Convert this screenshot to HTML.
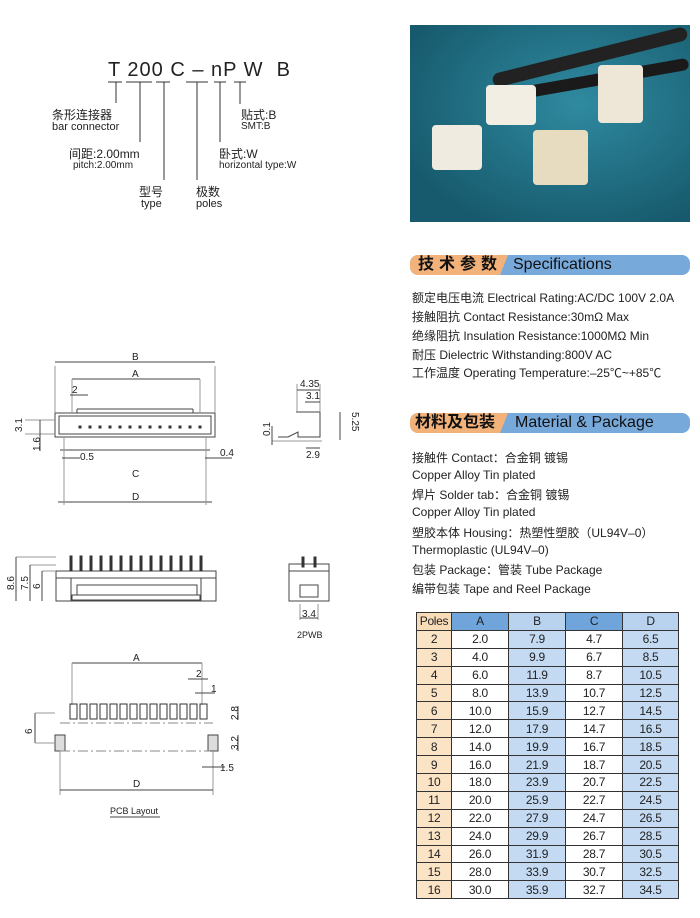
<!DOCTYPE html>
<html><head><meta charset="utf-8"><style>
body{margin:0;background:#fff;width:700px;height:918px;position:relative;overflow:hidden;font-family:"Liberation Sans","Noto Sans CJK SC",sans-serif;color:#222}
.t{position:absolute;white-space:nowrap}
.hdr{position:absolute;left:410px;width:280px;height:20px;border-radius:8px;background:#78a9db;overflow:hidden}
.hdr .o{position:absolute;left:0;top:0;height:20px;background:#f2b27a;clip-path:polygon(0 0,100% 0,calc(100% - 8px) 100%,0 100%)}
.hdr span{position:absolute;top:0;line-height:20px;font-size:16px;color:#111}
.sp{position:absolute;left:412px;font-size:12px;white-space:nowrap}
table{position:absolute;left:416px;top:612px;border-collapse:collapse;font-size:12px;letter-spacing:-0.3px}
td{border:1px solid #333;height:16.9px;padding:0;text-align:center;line-height:16px}
</style></head><body>
<div class="t" style="left:108px;top:59px;font-size:20px;letter-spacing:1px">T 200 C – nP W &nbsp;B</div>
<svg width="400" height="918" style="position:absolute;left:0;top:0" font-family="Liberation Sans" font-size="11" fill="none" stroke="#333">
<g stroke-width="1">
<line x1="108" y1="82" x2="122" y2="82"/><line x1="116" y1="82" x2="116" y2="103"/>
<line x1="126" y1="82" x2="152" y2="82"/><line x1="140" y1="82" x2="140" y2="142"/>
<line x1="156" y1="82" x2="170" y2="82"/><line x1="164" y1="82" x2="164" y2="180"/>
<line x1="186" y1="82" x2="208" y2="82"/><line x1="197" y1="82" x2="197" y2="180"/>
<line x1="214" y1="82" x2="226" y2="82"/><line x1="220" y1="82" x2="220" y2="142"/>
<line x1="234" y1="82" x2="246" y2="82"/><line x1="240" y1="82" x2="240" y2="104"/>
</g>
<g stroke="#444" stroke-width="1">
<rect x="55" y="413" width="160" height="24"/><rect x="59" y="416" width="152" height="18"/>
<line x1="77" y1="413" x2="193" y2="413"/><line x1="77" y1="413" x2="77" y2="409"/><line x1="193" y1="413" x2="193" y2="409"/><line x1="77" y1="409" x2="193" y2="409"/>
<line x1="55" y1="366" x2="55" y2="413" stroke="#999"/><line x1="215" y1="366" x2="215" y2="413" stroke="#999"/>
<line x1="55" y1="362" x2="215" y2="362"/><line x1="72" y1="379" x2="200" y2="379"/>
<line x1="72" y1="379" x2="72" y2="413" stroke="#999"/><line x1="200" y1="379" x2="200" y2="413" stroke="#999"/>
<line x1="70" y1="395" x2="88" y2="395"/>
<line x1="60" y1="450" x2="210" y2="450"/><line x1="58" y1="502" x2="212" y2="502"/>
<line x1="64" y1="437" x2="64" y2="505" stroke="#999"/><line x1="206" y1="437" x2="206" y2="505" stroke="#999"/>
<line x1="62" y1="458" x2="80" y2="458"/><line x1="205" y1="458" x2="232" y2="458"/>
<line x1="25" y1="420" x2="55" y2="420" stroke="#999"/><line x1="25" y1="434" x2="55" y2="434" stroke="#999"/><line x1="40" y1="420" x2="40" y2="451"/>
<path d="M296 412 h24 v25 h-22 v-5 l-10 5 h-10"/><line x1="272" y1="441" x2="322" y2="441" stroke="#999"/>
<line x1="297" y1="384" x2="297" y2="412" stroke="#999"/><line x1="320" y1="384" x2="320" y2="412" stroke="#999"/>
<line x1="297" y1="390" x2="320" y2="390"/><line x1="305" y1="402" x2="320" y2="402"/>
<line x1="306" y1="448" x2="320" y2="448"/><line x1="340" y1="412" x2="340" y2="440"/>
<line x1="272" y1="426" x2="272" y2="445"/>
<rect x="56" y="571" width="160" height="30"/><line x1="56" y1="578" x2="216" y2="578"/>
<rect x="56" y="578" width="15" height="23"/><rect x="201" y="578" width="15" height="23"/>
<rect x="77" y="585" width="120" height="10"/><rect x="72" y="595" width="128" height="5"/>
<line x1="16" y1="557" x2="56" y2="557" stroke="#999"/><line x1="30" y1="565" x2="56" y2="565" stroke="#999"/><line x1="42" y1="571" x2="56" y2="571" stroke="#999"/>
<line x1="16" y1="557" x2="16" y2="601"/><line x1="30" y1="565" x2="30" y2="601"/><line x1="42" y1="571" x2="42" y2="601"/>
<rect x="289" y="564" width="40" height="37"/><line x1="289" y1="571" x2="329" y2="571"/><rect x="300" y="585" width="18" height="12"/>
<line x1="300" y1="604" x2="300" y2="620" stroke="#999"/><line x1="318" y1="604" x2="318" y2="620" stroke="#999"/><line x1="300" y1="618" x2="318" y2="618"/>
<line x1="72" y1="663" x2="202" y2="663"/><line x1="72" y1="663" x2="72" y2="705" stroke="#999"/><line x1="202" y1="663" x2="202" y2="705" stroke="#999"/>
<line x1="188" y1="679" x2="208" y2="679"/><line x1="195" y1="693" x2="215" y2="693"/>
<rect x="55" y="735" width="10" height="16" fill="#ddd"/><rect x="208" y="735" width="10" height="16" fill="#ddd"/>
<line x1="60" y1="751" x2="210" y2="751" stroke-dasharray="10 3 2 3" stroke="#888"/>
<line x1="60" y1="723" x2="213" y2="723" stroke-dasharray="10 3 2 3" stroke="#888"/>
<line x1="60" y1="751" x2="60" y2="795" stroke="#999"/><line x1="213" y1="751" x2="213" y2="795" stroke="#999"/>
<line x1="60" y1="790" x2="213" y2="790"/><line x1="35" y1="713" x2="35" y2="743"/>
<line x1="35" y1="713" x2="55" y2="713" stroke="#999"/><line x1="35" y1="743" x2="55" y2="743" stroke="#999"/>
<line x1="202" y1="767" x2="225" y2="767"/><line x1="238" y1="706" x2="238" y2="720"/><line x1="238" y1="735" x2="238" y2="751"/>
<line x1="110" y1="817" x2="160" y2="817"/>
</g>
<g fill="#333">
<rect x="70" y="704" width="7" height="15" fill="none" stroke="#333"/>
<rect x="80" y="704" width="7" height="15" fill="none" stroke="#333"/>
<rect x="90" y="704" width="7" height="15" fill="none" stroke="#333"/>
<rect x="100" y="704" width="7" height="15" fill="none" stroke="#333"/>
<rect x="110" y="704" width="7" height="15" fill="none" stroke="#333"/>
<rect x="120" y="704" width="7" height="15" fill="none" stroke="#333"/>
<rect x="130" y="704" width="7" height="15" fill="none" stroke="#333"/>
<rect x="140" y="704" width="7" height="15" fill="none" stroke="#333"/>
<rect x="150" y="704" width="7" height="15" fill="none" stroke="#333"/>
<rect x="160" y="704" width="7" height="15" fill="none" stroke="#333"/>
<rect x="170" y="704" width="7" height="15" fill="none" stroke="#333"/>
<rect x="180" y="704" width="7" height="15" fill="none" stroke="#333"/>
<rect x="190" y="704" width="7" height="15" fill="none" stroke="#333"/>
<rect x="200" y="704" width="7" height="15" fill="none" stroke="#333"/>
<path d="M79 426h2v2h-2zM89 426h2v2h-2zM99 426h2v2h-2zM109 426h2v2h-2zM119 426h2v2h-2zM129 426h2v2h-2zM139 426h2v2h-2zM149 426h2v2h-2zM159 426h2v2h-2zM169 426h2v2h-2zM179 426h2v2h-2zM189 426h2v2h-2zM199 426h2v2h-2z"/>
<path d="M70 556h2v15h-2zM80 556h2v15h-2zM90 556h2v15h-2zM100 556h2v15h-2zM110 556h2v15h-2zM120 556h2v15h-2zM130 556h2v15h-2zM140 556h2v15h-2zM150 556h2v15h-2zM160 556h2v15h-2zM170 556h2v15h-2zM180 556h2v15h-2zM190 556h2v15h-2zM200 556h2v15h-2zM302 557h2v10h-2zM314 557h2v10h-2z"/>
</g>
<g fill="#222" stroke="none" font-size="10">
<text x="132" y="360">B</text><text x="132" y="377">A</text><text x="72" y="393">2</text>
<text x="80" y="460">0.5</text><text x="220" y="456">0.4</text>
<text x="132" y="477">C</text><text x="132" y="500">D</text>
<text x="22" y="432" transform="rotate(-90 22 432)">3.1</text><text x="40" y="451" transform="rotate(-90 40 451)">1.6</text>
<text x="300" y="387">4.35</text><text x="306" y="399">3.1</text><text x="306" y="458">2.9</text>
<text x="270" y="436" transform="rotate(-90 270 436)">0.1</text><text x="352" y="412" transform="rotate(90 352 412)">5.25</text>
<text x="14" y="590" transform="rotate(-90 14 590)">8.6</text><text x="28" y="590" transform="rotate(-90 28 590)">7.5</text><text x="40" y="589" transform="rotate(-90 40 589)">6</text>
<text x="302" y="617">3.4</text><text x="297" y="638" font-size="9">2PWB</text>
<text x="133" y="661">A</text><text x="196" y="677">2</text><text x="211" y="692">1</text>
<text x="238" y="720" transform="rotate(-90 238 720)">2.8</text><text x="238" y="750" transform="rotate(-90 238 750)">3.2</text>
<text x="32" y="734" transform="rotate(-90 32 734)">6</text><text x="220" y="771">1.5</text>
<text x="133" y="787">D</text><text x="110" y="814" font-size="9">PCB Layout</text>
</g>
</svg>
<div class="t" style="left:52px;top:106px;font-size:12px">条形连接器</div>
<div class="t" style="left:52px;top:121px;font-size:11px">bar connector</div>
<div class="t" style="left:69px;top:145px;font-size:12px">间距:2.00mm</div>
<div class="t" style="left:73px;top:160px;font-size:10px">pitch:2.00mm</div>
<div class="t" style="left:139px;top:183px;font-size:12px">型号</div>
<div class="t" style="left:141px;top:198px;font-size:11px">type</div>
<div class="t" style="left:196px;top:183px;font-size:12px">极数</div>
<div class="t" style="left:196px;top:198px;font-size:11px">poles</div>
<div class="t" style="left:219px;top:145px;font-size:12px">卧式:W</div>
<div class="t" style="left:219px;top:160px;font-size:10px">horizontal type:W</div>
<div class="t" style="left:241px;top:106px;font-size:12px">贴式:B</div>
<div class="t" style="left:241px;top:121px;font-size:10px">SMT:B</div>
<div style="position:absolute;left:410px;top:25px;width:280px;height:197px;background:radial-gradient(ellipse at 60% 40%,#2f8aa0,#175a6d 80%)">
<div style="position:absolute;left:80px;top:25px;width:200px;height:14px;background:#222;transform:rotate(-14deg);border-radius:7px"></div>
<div style="position:absolute;left:80px;top:50px;width:200px;height:12px;background:#1a1a1a;transform:rotate(-10deg);border-radius:6px"></div>
<div style="position:absolute;left:76px;top:60px;width:50px;height:40px;background:#f3eee4;border-radius:4px"></div>
<div style="position:absolute;left:22px;top:100px;width:50px;height:45px;background:#f0ebe0;border-radius:4px"></div>
<div style="position:absolute;left:123px;top:105px;width:55px;height:55px;background:#e8dcc0;border-radius:4px"></div>
<div style="position:absolute;left:188px;top:40px;width:45px;height:58px;background:#eee6d6;border-radius:4px"></div>
</div>
<div class="hdr" style="top:255px"><div class="o" style="width:98px"></div><span style="left:8px;letter-spacing:5px;font-weight:bold">技术参数</span><span style="left:103px">Specifications</span></div>
<div class="sp" style="top:289px">额定电压电流 Electrical Rating:AC/DC 100V 2.0A</div>
<div class="sp" style="top:308px">接触阻抗 Contact Resistance:30mΩ Max</div>
<div class="sp" style="top:327px">绝缘阻抗 Insulation Resistance:1000MΩ Min</div>
<div class="sp" style="top:346px">耐压 Dielectric Withstanding:800V AC</div>
<div class="sp" style="top:364px">工作温度 Operating Temperature:–25℃~+85℃</div>
<div class="hdr" style="top:413px"><div class="o" style="width:98px"></div><span style="left:5px;font-weight:bold">材料及包装</span><span style="left:105px">Material &amp; Package</span></div>
<div class="sp" style="top:449px">接触件 Contact：合金铜 镀锡</div>
<div class="sp" style="top:468px">Copper Alloy Tin plated</div>
<div class="sp" style="top:486px">焊片 Solder tab：合金铜 镀锡</div>
<div class="sp" style="top:505px">Copper Alloy Tin plated</div>
<div class="sp" style="top:524px">塑胶本体 Housing：热塑性塑胶（UL94V–0）</div>
<div class="sp" style="top:543px">Thermoplastic (UL94V–0)</div>
<div class="sp" style="top:561px">包装 Package：管装 Tube Package</div>
<div class="sp" style="top:580px">编带包装 Tape and Reel Package</div>
<table>
<colgroup><col style="width:35px"><col style="width:57px"><col style="width:57px"><col style="width:57px"><col style="width:56px"></colgroup>
<tr style="background:#b9d3ef"><td style="background:#f8dcb8">Poles</td><td style="background:#6fa5da">A</td><td>B</td><td style="background:#6fa5da">C</td><td>D</td></tr>
<tr><td>2</td><td>2.0</td><td>7.9</td><td>4.7</td><td>6.5</td></tr>
<tr><td>3</td><td>4.0</td><td>9.9</td><td>6.7</td><td>8.5</td></tr>
<tr><td>4</td><td>6.0</td><td>11.9</td><td>8.7</td><td>10.5</td></tr>
<tr><td>5</td><td>8.0</td><td>13.9</td><td>10.7</td><td>12.5</td></tr>
<tr><td>6</td><td>10.0</td><td>15.9</td><td>12.7</td><td>14.5</td></tr>
<tr><td>7</td><td>12.0</td><td>17.9</td><td>14.7</td><td>16.5</td></tr>
<tr><td>8</td><td>14.0</td><td>19.9</td><td>16.7</td><td>18.5</td></tr>
<tr><td>9</td><td>16.0</td><td>21.9</td><td>18.7</td><td>20.5</td></tr>
<tr><td>10</td><td>18.0</td><td>23.9</td><td>20.7</td><td>22.5</td></tr>
<tr><td>11</td><td>20.0</td><td>25.9</td><td>22.7</td><td>24.5</td></tr>
<tr><td>12</td><td>22.0</td><td>27.9</td><td>24.7</td><td>26.5</td></tr>
<tr><td>13</td><td>24.0</td><td>29.9</td><td>26.7</td><td>28.5</td></tr>
<tr><td>14</td><td>26.0</td><td>31.9</td><td>28.7</td><td>30.5</td></tr>
<tr><td>15</td><td>28.0</td><td>33.9</td><td>30.7</td><td>32.5</td></tr>
<tr><td>16</td><td>30.0</td><td>35.9</td><td>32.7</td><td>34.5</td></tr>
</table>
<style>table tr:not(:first-child) td:first-child{background:#fbe3c6}table tr:not(:first-child) td:nth-child(3),table tr:not(:first-child) td:nth-child(5){background:#c4daf2}</style>
</body></html>
